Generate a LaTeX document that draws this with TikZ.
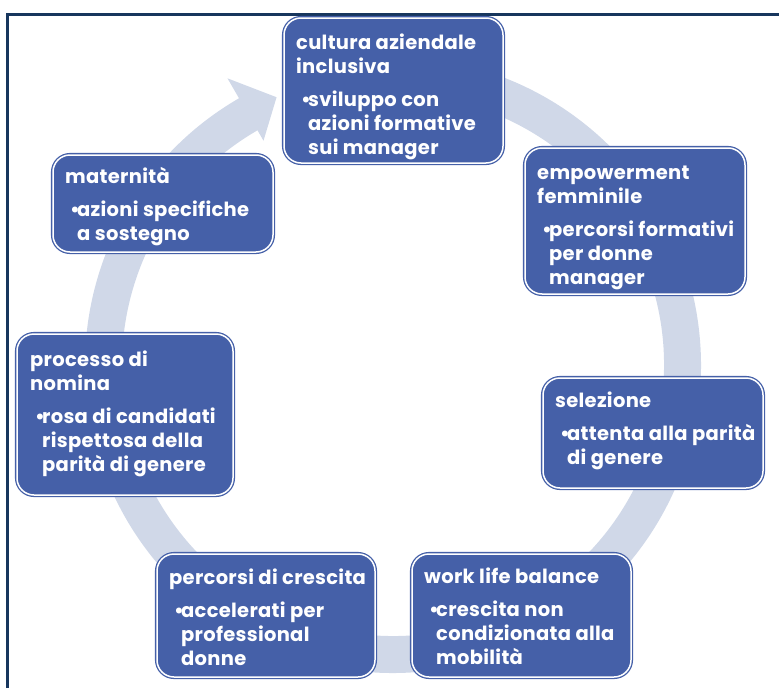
\documentclass[tikz,border=0pt]{standalone}
\usepackage{fontspec}
\setmainfont{Poppins}[LetterSpace=1.5]
\usetikzlibrary{calc}
\definecolor{boxblue}{RGB}{69,96,168}
\definecolor{ringcol}{RGB}{208,216,232}
\definecolor{framecol}{RGB}{23,54,93}
\newcommand{\bul}{\hspace*{5pt}\makebox[7pt][l]{•}}
\newcommand{\ind}{\hspace*{12pt}}
\begin{document}
\begin{tikzpicture}[x=1pt,y=1pt,
  box/.style={rounded corners=17pt, fill=boxblue, draw=boxblue, double=white,
    double distance=1.5pt, line width=1.3pt, inner sep=0pt, outer sep=0pt},
  txt/.style={anchor=base west, inner sep=0pt, text=white,
    font=\bfseries\fontsize{19.5}{24}\selectfont},
  frame/.style={draw=framecol, line width=3pt}]
\useasboundingbox (0,0) rectangle (779,-688);
% frame
\coordinate (fa) at (7.5,-688);
\coordinate (fb) at (7.5,-14);
\coordinate (fc) at (779,-14);
\draw[frame] (fa) -- (fb) -- (fc);
% circular arrow
\coordinate (c) at (393,-365);
\fill[ringcol] ($(c)+(95:308)$) arc[start angle=95,end angle=-240,radius=308]
  -- ($(c)+(120:331)$) -- ($(c)+(113.5:292)$) -- ($(c)+(120:259)$)
  -- ($(c)+(120:271)$) arc[start angle=-240,end angle=95,radius=271] -- cycle;
% boxes
\node[box, minimum width=219pt, minimum height=145pt] (b1) at (393.5,-90.5) {};
\node[box, minimum width=220pt, minimum height=146pt] (b2) at (635,-221) {};
\node[box, minimum width=220pt, minimum height=110pt] (b3) at (653,-433) {};
\node[box, minimum width=219pt, minimum height=123pt] (b4) at (521.5,-615.5) {};
\node[box, minimum width=218pt, minimum height=123pt] (b5) at (266,-615.5) {};
\node[box, minimum width=216pt, minimum height=161pt] (b6) at (125,-414.5) {};
\node[box, minimum width=220pt, minimum height=97pt] (b7) at (163,-203.5) {};
% texts
\node[txt] (t1) at ($(b1.north west)+(12,-31)$) {\begin{tabular}[t]{@{}l@{}}cultura aziendale\\ inclusiva\\[9pt] \bul sviluppo con\\ \ind azioni formative\\ \ind sui manager\end{tabular}};
\node[txt] (t2) at ($(b2.north west)+(12,-31)$) {\begin{tabular}[t]{@{}l@{}}empowerment\\ femminile\\[9pt] \bul percorsi formativi\\ \ind per donne\\ \ind manager\end{tabular}};
\node[txt] (t3) at ($(b3.north west)+(12,-29)$) {\begin{tabular}[t]{@{}l@{}}selezione\\[9pt] \bul attenta alla parità\\ \ind di genere\end{tabular}};
\node[txt] (t4) at ($(b4.north west)+(12,-29)$) {\begin{tabular}[t]{@{}l@{}}work life balance\\[9pt] \bul crescita non\\ \ind condizionata alla\\ \ind mobilità\end{tabular}};
\node[txt] (t5) at ($(b5.north west)+(12,-30)$) {\begin{tabular}[t]{@{}l@{}}percorsi di crescita\\[9pt] \bul accelerati per\\ \ind professional\\ \ind donne\end{tabular}};
\node[txt] (t6) at ($(b6.north west)+(13,-32)$) {\begin{tabular}[t]{@{}l@{}}processo di\\ nomina\\[9pt] \bul rosa di candidati\\ \ind rispettosa della\\ \ind parità di genere\end{tabular}};
\node[txt] (t7) at ($(b7.north west)+(12,-28)$) {\begin{tabular}[t]{@{}l@{}}maternità\\[9pt] \bul azioni specifiche\\ \ind a sostegno\end{tabular}};
\end{tikzpicture}
\end{document}
